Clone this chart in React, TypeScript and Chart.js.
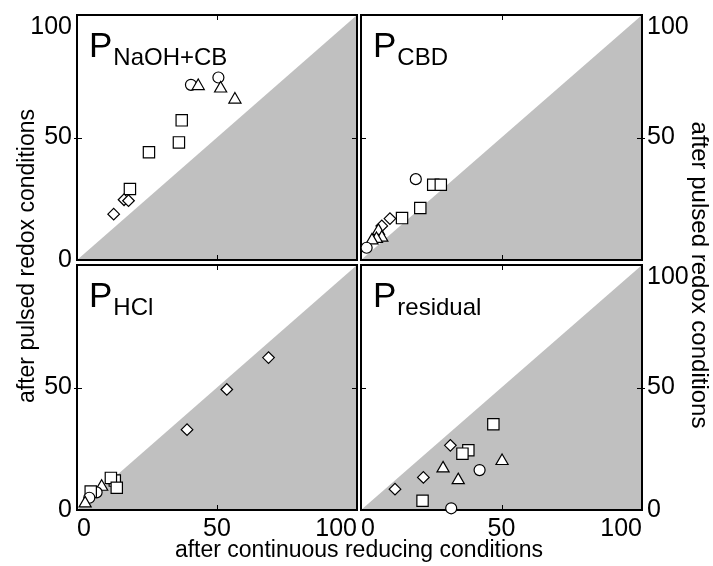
import { useEffect, useRef } from 'react';
import { Chart, registerables } from 'chart.js';

Chart.register(...registerables);

const FONT = "'Liberation Sans', Arial, Helvetica, sans-serif";

// ---- data ----
const xTicks = [0, 50, 100];
const tlYTicks = [0, 50, 100];
const trYTicks = [50, 100];
const blYTicks = [0, 50];
const brYTicks = [0, 50, 100];

const diagonalX = [0, 100];
const diagonalY = [0, 100];

const naohX = [40.7, 43.3, 50.5, 51.3, 56.4, 37.4, 36.4, 25.7, 18.9, 16.8, 18.4, 13.1];
const naohY = [71.5, 71.0, 74.5, 70.0, 65.5, 57.0, 48.0, 44.0, 29.0, 24.6, 24.2, 18.7];
const naohShape = ['circle', 'triangle', 'circle', 'triangle', 'triangle', 'rect', 'rect', 'rect', 'rect', 'rectRot', 'rectRot', 'rectRot'];

const cbdX = [19.5, 25.7, 28.4, 21.1, 14.6, 10.3, 7.4, 6.2, 7.4, 5.5, 3.9, 2.0];
const cbdY = [33.0, 30.7, 30.7, 21.2, 17.1, 16.9, 13.9, 11.9, 9.1, 8.6, 8.0, 5.0];
const cbdShape = ['circle', 'rect', 'rect', 'rect', 'rect', 'rectRot', 'rectRot', 'triangle', 'triangle', 'triangle', 'triangle', 'circle'];

const hclX = [68.4, 53.5, 39.3, 13.5, 12.1, 14.2, 8.8, 7.0, 4.9, 4.4, 2.9];
const hclY = [62.2, 49.2, 32.8, 12.0, 13.1, 9.1, 9.5, 7.2, 7.5, 5.0, 2.7];
const hclShape = ['rectRot', 'rectRot', 'rectRot', 'rect', 'rect', 'rect', 'triangle', 'circle', 'rect', 'circle', 'triangle'];

const resX = [47.1, 31.8, 38.2, 36.1, 50.2, 29.2, 42.2, 34.6, 22.2, 12.1, 21.9, 32.1];
const resY = [35.0, 26.4, 24.4, 23.0, 20.0, 17.0, 16.3, 12.2, 13.3, 8.5, 3.8, 0.7];
const resShape = ['rect', 'rectRot', 'rect', 'rect', 'triangle', 'triangle', 'circle', 'triangle', 'rectRot', 'rectRot', 'rect', 'circle'];

const yTitle = 'after pulsed redox conditions';
const xTitle = 'after continuous reducing conditions';

// ---- layout / style ----
const W = 713;
const H = 566;
const AXIS_W = 64;
const AXIS_H = 34;
const sizeOf: Record<string, number> = { circle: 5.5, rect: 8, triangle: 7, rectRot: 5.8 };

type Panel = {
  sub: string;
  xs: number[];
  ys: number[];
  shapes: string[];
  yTicks: number[];
  showX: boolean;
  ySide: 'left' | 'right';
  area: { l: number; t: number; r: number; b: number };
  titles?: boolean;
};

const panels: Panel[] = [
  { sub: 'NaOH+CB', xs: naohX, ys: naohY, shapes: naohShape, yTicks: tlYTicks, showX: false, ySide: 'left', area: { l: 77, t: 15, r: 357, b: 260 }, titles: true },
  { sub: 'CBD', xs: cbdX, ys: cbdY, shapes: cbdShape, yTicks: trYTicks, showX: false, ySide: 'right', area: { l: 361, t: 15, r: 642, b: 260 } },
  { sub: 'HCl', xs: hclX, ys: hclY, shapes: hclShape, yTicks: blYTicks, showX: true, ySide: 'left', area: { l: 77, t: 265, r: 357, b: 510 } },
  { sub: 'residual', xs: resX, ys: resY, shapes: resShape, yTicks: brYTicks, showX: true, ySide: 'right', area: { l: 361, t: 265, r: 642, b: 510 } },
];

function makePlugin(p: Panel) {
  return {
    id: 'panelDeco',
    afterDatasetDraw(chart: any, args: any) {
      if (args.index !== 0) return;
      const { ctx, chartArea: a, scales } = chart;
      ctx.save();
      ctx.strokeStyle = '#000';
      ctx.lineWidth = 2;
      ctx.strokeRect(a.left, a.top, a.right - a.left, a.bottom - a.top);
      ctx.lineWidth = 1;
      const xm = Math.round(scales.x.getPixelForValue(50)) + 0.5;
      const ym = Math.round(scales.y.getPixelForValue(50)) + 0.5;
      ctx.beginPath();
      ctx.moveTo(xm, a.top); ctx.lineTo(xm, a.top + 5);
      ctx.moveTo(xm, a.bottom); ctx.lineTo(xm, a.bottom - 5);
      ctx.moveTo(a.left, ym); ctx.lineTo(a.left + 5, ym);
      ctx.moveTo(a.right, ym); ctx.lineTo(a.right - 5, ym);
      if (p.ySide === 'left') { ctx.moveTo(a.left, ym); ctx.lineTo(a.left - 3, ym); }
      else { ctx.moveTo(a.right, ym); ctx.lineTo(a.right + 3, ym); }
      ctx.stroke();
      ctx.restore();
    },
    afterDraw(chart: any) {
      const { ctx, chartArea: a } = chart;
      ctx.save();
      ctx.fillStyle = '#000';
      ctx.textBaseline = 'alphabetic';
      ctx.textAlign = 'left';
      ctx.font = `35px ${FONT}`;
      const px = a.left + 12;
      const py = a.top + 42;
      ctx.fillText('P', px, py);
      const pw = ctx.measureText('P').width;
      ctx.font = `24px ${FONT}`;
      ctx.fillText(p.sub, px + pw + 1, py + 8);
      if (p.titles) {
        ctx.textAlign = 'center';
        ctx.textBaseline = 'middle';
        ctx.font = `23px ${FONT}`;
        ctx.save();
        ctx.translate(28, 256);
        ctx.rotate(-Math.PI / 2);
        ctx.fillText(yTitle, 0, 0);
        ctx.restore();
        ctx.font = `24px ${FONT}`;
        ctx.save();
        ctx.translate(699, 275);
        ctx.rotate(Math.PI / 2);
        ctx.fillText(yTitle, 0, 0);
        ctx.restore();
        ctx.font = `23px ${FONT}`;
        ctx.fillText(xTitle, 359, 551);
      }
      ctx.restore();
    },
  };
}

function PanelChart({ p }: { p: Panel }) {
  const ref = useRef<HTMLCanvasElement | null>(null);
  useEffect(() => {
    if (!ref.current) return;
    const a = p.area;
    const padding = {
      left: p.ySide === 'left' ? a.l - AXIS_W : a.l,
      right: p.ySide === 'right' ? W - a.r - AXIS_W : W - a.r,
      top: a.t,
      bottom: p.showX ? H - a.b - AXIS_H : H - a.b,
    };
    const tickFont = { family: FONT, size: 25, lineHeight: 1 };
    const noPad = (s: any) => {
      s.paddingTop = 0;
      s.paddingBottom = 0;
      s.paddingLeft = 0;
      s.paddingRight = 0;
    };
    const chart = new Chart(ref.current, {
      type: 'scatter',
      data: {
        datasets: [
          {
            type: 'line',
            data: diagonalX.map((x, i) => ({ x, y: diagonalY[i] })),
            fill: 'origin',
            backgroundColor: '#c0c0c0',
            borderColor: '#c0c0c0',
            borderWidth: 0,
            pointRadius: 0,
            order: 2,
          } as any,
          {
            data: p.xs.map((x, i) => ({ x, y: p.ys[i] })),
            pointStyle: p.shapes as any,
            pointRadius: (c: any) => sizeOf[p.shapes[c.dataIndex]] ?? 5,
            backgroundColor: '#ffffff',
            borderColor: '#000000',
            borderWidth: 1.2,
            clip: false as any,
            order: 1,
          },
        ],
      },
      options: {
        responsive: false,
        animation: false,
        events: [],
        layout: { padding },
        plugins: { legend: { display: false }, tooltip: { enabled: false } },
        scales: {
          x: {
            type: 'linear',
            min: 0,
            max: 100,
            display: p.showX,
            position: 'bottom',
            afterBuildTicks: (s: any) => { s.ticks = xTicks.map((v) => ({ value: v })); },
            afterFit: (s: any) => { if (p.showX) s.height = AXIS_H; noPad(s); },
            grid: { display: false, drawTicks: false },
            border: { display: false },
            ticks: { align: 'inner', padding: 7, color: '#000', font: tickFont, maxRotation: 0, autoSkip: false },
          },
          y: {
            type: 'linear',
            min: 0,
            max: 100,
            position: p.ySide,
            afterBuildTicks: (s: any) => { s.ticks = p.yTicks.map((v) => ({ value: v })); },
            afterFit: (s: any) => { s.width = AXIS_W; noPad(s); },
            grid: { display: false, drawTicks: false },
            border: { display: false },
            ticks: {
              padding: 5,
              color: '#000',
              font: tickFont,
              autoSkip: false,
              callback: (v: any) => (Number(v) === 100 ? ['', String(v)] : String(v)),
            },
          },
        },
      } as any,
      plugins: [makePlugin(p)],
    });
    return () => chart.destroy();
  }, [p]);
  return (
    <canvas
      ref={ref}
      width={W}
      height={H}
      style={{ position: 'absolute', left: 0, top: 0, width: W, height: H, display: 'block' }}
    />
  );
}

export default function App() {
  return (
    <div style={{ position: 'absolute', left: 0, top: 0, width: W, height: H, background: '#fff' }}>
      {panels.map((p) => (
        <PanelChart key={p.sub} p={p} />
      ))}
    </div>
  );
}
